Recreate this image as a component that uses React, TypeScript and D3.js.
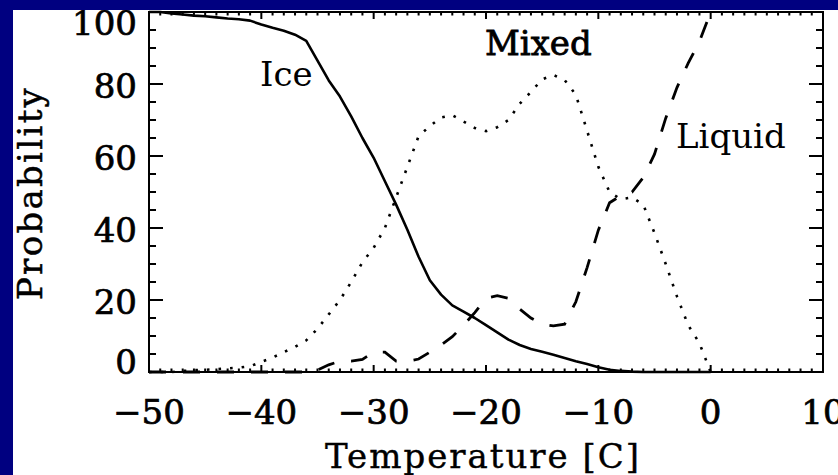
import React from "react";
import * as d3 from "d3";

const temps = [-50, -49, -48, -47, -46, -45, -44, -43, -42, -41, -40, -39, -38, -37, -36, -35, -34, -33, -32, -31, -30, -29, -28, -27, -26, -25, -24, -23, -22, -21, -20, -19, -18, -17, -16, -15, -14, -13, -12, -11, -10, -9, -8, -7, -6, -5, -4, -3, -2, -1, 0];

const ice = [100, 100, 99.6, 99.3, 99, 98.8, 98.5, 98.2, 98, 97.6, 96.5, 95.6, 94.8, 93.7, 92, 86.5, 81, 76.5, 71, 65, 59.5, 53, 46.5, 39.5, 32, 25.5, 21.5, 18.5, 16.8, 15, 13, 11, 9, 7.5, 6.4, 5.6, 4.8, 3.9, 3, 2.2, 1.3, 0.6, 0.3, 0.1, 0, 0, 0, 0, 0, 0, 0];

const mixed = [0, 0, 0, 0.3, 0.5, 0.6, 0.8, 1, 1.2, 1.6, 2.8, 4, 5.5, 7, 8.8, 12, 16, 20, 25, 30.5, 34.5, 40, 48.5, 57, 65.5, 68.3, 70.7, 71.3, 69.6, 67.8, 66.9, 68, 70, 74.5, 77.8, 81.3, 82.5, 81.1, 77, 67, 57, 50, 48, 48.5, 46.5, 38.6, 30, 21, 13, 8, 0];

const liquid = [0, 0, 0, 0, 0, 0, 0, 0, 0, 0, 0, 0, 0, 0, 0, 0.5, 2, 3, 3, 3.5, 5.5, 5.5, 3, 3, 3.6, 5.5, 7.5, 9.8, 13, 16.5, 20.5, 21.2, 20.5, 17.5, 15, 13.3, 12.8, 13.3, 19.5, 29, 39.4, 47, 49, 50, 54, 60.5, 70.5, 79, 85.8, 91.8, 100];

const xTicks = [-50, -40, -30, -20, -10, 0, 10];
const xTickLabels = ["\u221250", "\u221240", "\u221230", "\u221220", "\u221210", "0", "10"];
const yTicks = [0, 20, 40, 60, 80, 100];
const yTickLabels = ["0", "20", "40", "60", "80", "100"];

const W = 838;
const H = 475;
const NAVY = "#000080";
const FONT = "'DejaVu Serif', serif";

export default function App() {
  const x = d3.scaleLinear().domain([-50, 10]).range([149, 823]);
  const y = d3.scaleLinear().domain([0, 100]).range([372, 12]);

  const mk = (vals: number[]) =>
    d3
      .line<number>()
      .x((_, i) => x(temps[i]))
      .y((v) => y(v))(vals) || "";

  const xMinor = d3.range(-50, 10.5, 1).filter((t) => t % 10 !== 0);
  const yMinor = d3.range(0, 100.5, 5).filter((t) => t % 20 !== 0);

  const [x0, x1] = x.range();
  const [yb, yt] = y.range();

  const tickStroke = { stroke: "black", strokeWidth: 2 };

  return (
    <svg
      width={W}
      height={H}
      style={{ position: "absolute", left: 0, top: 0, display: "block" }}
      fontFamily={FONT}
    >
      <rect x={0} y={0} width={W} height={H} fill={NAVY} />
      <rect x={13} y={10} width={W - 13} height={H - 10} fill="white" />

      {/* data lines */}
      <path d={mk(mixed)} fill="none" stroke="black" strokeWidth={2.6} strokeDasharray="2.6 9" />
      <path d={mk(liquid)} fill="none" stroke="black" strokeWidth={2.8} strokeDasharray="17 17" />
      <path d={mk(ice)} fill="none" stroke="black" strokeWidth={2.6} strokeLinejoin="round" />

      {/* frame */}
      <rect x={x0} y={yt} width={x1 - x0} height={yb - yt} fill="none" stroke="black" strokeWidth={2} />

      {/* x ticks bottom & top */}
      {xTicks.map((t) => (
        <g key={"xt" + t}>
          <line x1={x(t)} x2={x(t)} y1={yb} y2={yb - 7} {...tickStroke} />
          <line x1={x(t)} x2={x(t)} y1={yt} y2={yt + 7} {...tickStroke} />
        </g>
      ))}
      {xMinor.map((t) => (
        <g key={"xm" + t}>
          <line x1={x(t)} x2={x(t)} y1={yb} y2={yb - 3.5} {...tickStroke} />
          <line x1={x(t)} x2={x(t)} y1={yt} y2={yt + 3.5} {...tickStroke} />
        </g>
      ))}

      {/* y ticks left & right */}
      {yTicks.map((v) => (
        <g key={"yt" + v}>
          <line x1={x0} x2={x0 + 14} y1={y(v)} y2={y(v)} {...tickStroke} />
          <line x1={x1} x2={x1 - 14} y1={y(v)} y2={y(v)} {...tickStroke} />
        </g>
      ))}
      {yMinor.map((v) => (
        <g key={"ym" + v}>
          <line x1={x0} x2={x0 + 7} y1={y(v)} y2={y(v)} {...tickStroke} />
          <line x1={x1} x2={x1 - 7} y1={y(v)} y2={y(v)} {...tickStroke} />
        </g>
      ))}

      {/* tick labels */}
      {xTicks.map((t, i) => (
        <text
          key={"xl" + t}
          x={x(t)}
          y={424}
          textAnchor="middle"
          fontSize={34}
          stroke="black"
          strokeWidth={0.7}
        >
          {xTickLabels[i]}
        </text>
      ))}
      {yTicks.map((v, i) => (
        <text
          key={"yl" + v}
          x={137}
          y={Math.min(374, Math.max(35, y(v) + 14))}
          textAnchor="end"
          fontSize={34}
          stroke="black"
          strokeWidth={0.7}
        >
          {yTickLabels[i]}
        </text>
      ))}

      {/* axis titles */}
      <text x={325} y={468} fontSize={34} letterSpacing={2} stroke="black" strokeWidth={0.4}>
        Temperature [C]
      </text>
      <text
        transform="translate(42,193) rotate(-90)"
        textAnchor="middle"
        fontSize={34}
        letterSpacing={2.3}
        stroke="black"
        strokeWidth={0.5}
      >
        Probability
      </text>

      {/* series labels */}
      <text x={260} y={86} fontSize={34}>Ice</text>
      <text x={485} y={55} fontSize={34} stroke="black" strokeWidth={0.8}>Mixed</text>
      <text x={676} y={148} fontSize={34}>Liquid</text>

      {/* cropping bands of the slide background */}
      <rect x={0} y={0} width={W} height={10} fill={NAVY} />
      <rect x={0} y={0} width={13} height={H} fill={NAVY} />
    </svg>
  );
}
